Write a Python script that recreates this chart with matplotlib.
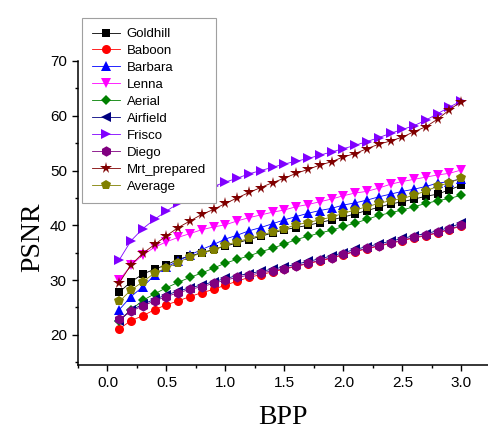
import numpy as np
import matplotlib
matplotlib.use("Agg")
import matplotlib.pyplot as plt
from matplotlib.ticker import MultipleLocator

bpp = [0.1, 0.2, 0.3, 0.4, 0.5, 0.6, 0.7, 0.8, 0.9, 1.0,
       1.1, 1.2, 1.3, 1.4, 1.5, 1.6, 1.7, 1.8, 1.9, 2.0,
       2.1, 2.2, 2.3, 2.4, 2.5, 2.6, 2.7, 2.8, 2.9, 3.0]

goldhill = [27.8, 29.7, 31.1, 32.0, 32.8, 33.8, 34.4, 35.0, 35.6, 36.2,
            36.8, 37.4, 38.0, 38.6, 39.2, 39.6, 40.0, 40.5, 41.0, 41.5,
            42.1, 42.7, 43.3, 43.9, 44.3, 44.8, 45.3, 45.7, 46.5, 47.3]
baboon = [21.1, 22.6, 23.5, 24.6, 25.5, 26.2, 27.0, 27.7, 28.3, 29.1,
          29.8, 30.5, 31.0, 31.5, 32.0, 32.5, 33.0, 33.5, 34.0, 34.6,
          35.2, 35.7, 36.2, 36.7, 37.2, 37.7, 38.1, 38.6, 39.2, 39.9]
barbara = [24.6, 27.0, 28.8, 30.9, 32.4, 33.5, 34.6, 35.6, 36.5, 37.5,
           38.2, 39.0, 39.6, 40.3, 41.0, 41.6, 42.2, 42.7, 43.1, 43.7,
           44.1, 44.6, 45.2, 45.7, 46.2, 46.6, 47.1, 47.7, 48.0, 48.5]
lenna = [30.0, 32.7, 34.6, 36.0, 37.0, 37.8, 38.5, 39.2, 39.7, 40.1,
         40.8, 41.4, 41.9, 42.4, 42.8, 43.4, 43.8, 44.3, 44.8, 45.4,
         45.9, 46.2, 46.8, 47.5, 48.0, 48.4, 48.8, 49.2, 49.5, 50.1]
aerial = [22.6, 24.6, 26.3, 27.5, 28.6, 29.6, 30.5, 31.3, 32.2, 33.1,
          33.8, 34.4, 35.2, 35.8, 36.6, 37.4, 38.0, 38.6, 39.1, 39.8,
          40.4, 41.1, 41.8, 42.3, 42.8, 43.4, 44.0, 44.5, 44.9, 45.5]
airfield = [22.6, 24.5, 25.6, 26.5, 27.3, 28.0, 28.6, 29.1, 29.7, 30.3,
            30.8, 31.2, 31.6, 32.0, 32.4, 32.9, 33.4, 33.9, 34.4, 35.0,
            35.6, 36.1, 36.6, 37.1, 37.6, 38.1, 38.5, 39.0, 39.6, 40.4]
frisco = [33.7, 37.2, 39.4, 41.1, 42.6, 44.0, 45.2, 46.2, 47.1, 47.9,
          48.6, 49.4, 50.0, 50.6, 51.2, 51.7, 52.2, 52.8, 53.4, 54.0,
          54.6, 55.3, 56.0, 56.8, 57.5, 58.2, 59.2, 60.4, 61.6, 62.7]
diego = [22.9, 24.3, 25.3, 26.2, 27.0, 27.7, 28.3, 28.8, 29.4, 30.0,
         30.5, 30.9, 31.3, 31.7, 32.1, 32.6, 33.1, 33.6, 34.1, 34.7,
         35.3, 35.8, 36.3, 36.8, 37.3, 37.8, 38.2, 38.7, 39.3, 40.0]
mrt_prepared = [29.5, 32.8, 34.9, 36.5, 38.1, 39.6, 40.8, 42.0, 42.9, 44.0,
                45.0, 46.0, 46.9, 47.8, 48.6, 49.5, 50.2, 51.0, 51.6, 52.5,
                53.1, 54.0, 54.8, 55.4, 56.1, 57.1, 58.0, 59.4, 61.1, 62.6]
average = [26.1, 28.2, 29.7, 31.3, 32.2, 33.2, 34.3, 34.9, 35.5, 36.4,
           37.0, 37.6, 38.2, 38.8, 39.4, 40.1, 40.5, 41.0, 41.5, 42.2,
           42.8, 43.4, 44.0, 44.5, 44.9, 45.5, 46.3, 47.1, 47.8, 48.6]

names = ["Goldhill", "Baboon", "Barbara", "Lenna", "Aerial", "Airfield",
         "Frisco", "Diego", "Mrt_prepared", "Average"]
series = [goldhill, baboon, barbara, lenna, aerial, airfield,
          frisco, diego, mrt_prepared, average]
colors = ["#000000", "#FF0000", "#0000FF", "#FF00FF", "#008000", "#000080",
          "#8000FF", "#800080", "#800000", "#808000"]
markers = ["s", "o", "^", "v", "D", "<", ">", "h", "*", "p"]
msizes = [6, 6.5, 7.5, 7.5, 5.5, 7.5, 7.5, 7.5, 8.5, 7.5]

W, H = 489, 432
fig = plt.figure(figsize=(W / 100, H / 100), dpi=100)
ax = fig.add_axes([78 / W, (H - 365) / H, 411 / W, 304 / H])

lines = []
for name, ys, c, m, ms in zip(names, series, colors, markers, msizes):
    ln, = ax.plot(bpp, ys, color=c, lw=0.6, marker=m, markersize=ms,
                  markeredgewidth=0, label=name, clip_on=False)
    lines.append(ln)

ax.set_xlim(-0.25, 3.235)
ax.set_ylim(14.5, 70)
ax.spines["top"].set_visible(False)
ax.spines["right"].set_visible(False)
for s in ("left", "bottom"):
    ax.spines[s].set_linewidth(1.1)
ax.xaxis.set_major_locator(MultipleLocator(0.5))
ax.xaxis.set_minor_locator(MultipleLocator(0.25))
ax.yaxis.set_major_locator(MultipleLocator(10))
ax.yaxis.set_minor_locator(MultipleLocator(5))
ax.set_xticks([0.0, 0.5, 1.0, 1.5, 2.0, 2.5, 3.0])
ax.set_yticks([20, 30, 40, 50, 60, 70])
ax.tick_params(which="major", direction="out", length=4, width=1.0,
               labelsize=11, pad=4)
ax.tick_params(which="minor", direction="out", length=2.5, width=1.0)
for lab in ax.get_xticklabels() + ax.get_yticklabels():
    lab.set_fontfamily("Liberation Sans")
ax.xaxis.set_major_formatter(matplotlib.ticker.FormatStrFormatter("%.1f"))

fig.text(283 / W, 1 - 418 / H, "BPP", family="Liberation Serif",
         fontsize=20, ha="center", va="center")
fig.text(33 / W, 1 - 237 / H, "PSNR", family="Liberation Serif",
         fontsize=20, ha="center", va="center", rotation=90)

leg = fig.legend(handles=lines, loc="upper left",
                 bbox_to_anchor=(82 / W, 1 - 18 / H),
                 prop={"family": "Liberation Sans", "size": 9.5},
                 frameon=True, fancybox=False, edgecolor="#A0A0A0",
                 framealpha=1, labelspacing=0.36, handlelength=2.1,
                 handletextpad=0.55, borderpad=0.75, borderaxespad=0)
leg.get_frame().set_linewidth(0.8)

fig.savefig("out.png", dpi=100)
